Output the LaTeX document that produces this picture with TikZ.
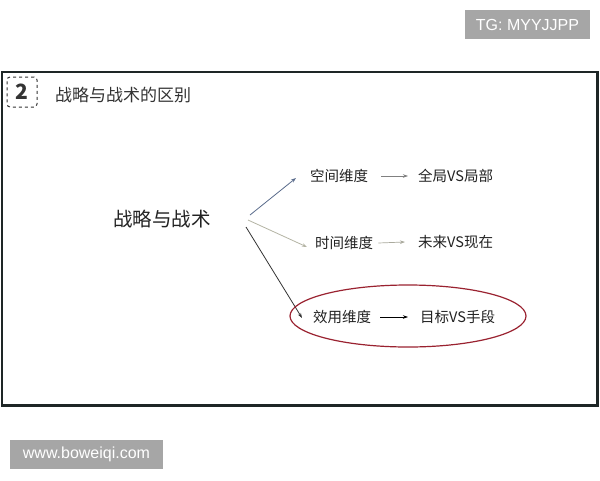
\documentclass[tikz,border=0pt]{standalone}
\usepackage{fontspec}
\setmainfont{Liberation Sans}
\newfontfamily\cjk{Noto Sans CJK SC}
\usetikzlibrary{shapes.geometric,arrows.meta}
\definecolor{framec}{HTML}{1E2626}
\definecolor{tagc}{HTML}{A6A6A6}
\definecolor{txtc}{HTML}{222222}
\definecolor{bluec}{HTML}{5A6C8C}
\definecolor{beigec}{HTML}{B4B4A4}
\definecolor{darkc}{HTML}{333333}
\definecolor{redc}{HTML}{9A2230}
\tikzset{
  tag/.style={fill=tagc, text=white, inner sep=0pt, font=\fontsize{16}{18}\selectfont},
  lbl/.style={inner sep=0pt, text=txtc, font=\cjk\fontsize{14.5}{16}\selectfont},
  br/.style={-{Stealth[length=5pt,width=3.5pt]}, line width=0.8pt},
  sh/.style={-{Stealth[length=5pt,width=3.5pt]}, line width=0.7pt, gray},
}
\begin{document}
\begin{tikzpicture}[x=1pt,y=-1pt]
\useasboundingbox (0,0) rectangle (600,480);
\fill[white] (0,0) rectangle (600,480);
% tags
\node[tag, minimum width=125pt, minimum height=29pt] (tg) at (527.5,24.5) {TG: MYYJJPP};
\node[tag, minimum width=153pt, minimum height=29pt] (www) at (86.5,454.5) {www.boweiqi.com};
% frame
\draw[framec, line width=2.5pt] (2,72) rectangle (597.5,405.5);
% title
\node[draw=darkc, dashed, rounded corners=3pt, line width=1pt, minimum width=30pt, minimum height=30pt, inner sep=0pt, text=darkc, font=\cjk\bfseries\fontsize{21}{22}\selectfont] (num) at (22,92) {2};
\node[anchor=west, inner sep=0pt, text=darkc, font=\cjk\fontsize{17}{18}\selectfont] (title) at (55,95) {战略与战术的区别};
% main
\node[inner sep=0pt, text=txtc, font=\cjk\fontsize{19.5}{21}\selectfont] (main) at (162,219) {战略与战术};
\coordinate (o1) at (250,215);
\coordinate (o2) at (248,220);
\coordinate (o3) at (246,227);
% labels
\node[lbl, anchor=west] (a1) at (310,176) {空间维度};
\node[lbl, anchor=west] (b1) at (418,176) {全局VS局部};
\node[lbl, anchor=west] (a2) at (315,243) {时间维度};
\node[lbl, anchor=west] (b2) at (418,242) {未来VS现在};
\node[lbl, anchor=west] (a3) at (313,317) {效用维度};
\node[lbl, anchor=west] (b3) at (420,317) {目标VS手段};
% branch arrows
\draw[br, bluec] (o1) -- (296,178) coordinate (t1);
\draw[br, beigec] (o2) -- (307,247) coordinate (t2);
\draw[br, darkc] (o3) -- (302,318) coordinate (t3);
% short arrows
\draw[sh] ([xshift=13pt]a1.east) -- ([xshift=-10pt]b1.west);
\draw[sh, beigec!80!gray] ([xshift=5pt]a2.east) -- ([xshift=-13pt]b2.west);
\draw[sh, black] ([xshift=9pt]a3.east) -- ([xshift=-12pt]b3.west);
% ellipse
\node[draw=redc, line width=1.2pt, ellipse, minimum width=236pt, minimum height=62pt] (ell) at (408,316) {};
\end{tikzpicture}
\end{document}
